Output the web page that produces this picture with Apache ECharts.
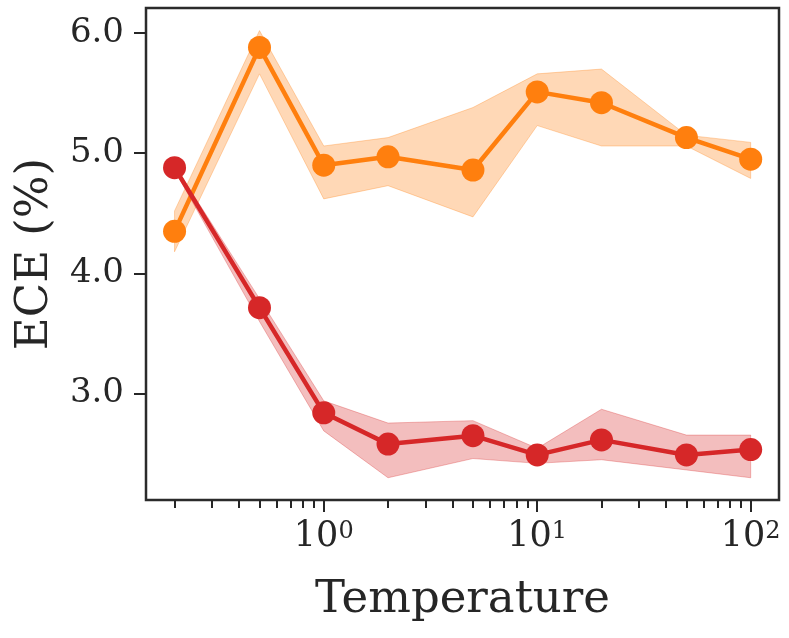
<!DOCTYPE html>
<html>
<head>
<meta charset="utf-8">
<script src="https://cdn.jsdelivr.net/npm/echarts@6/dist/echarts.min.js"></script>
<style>
html,body{margin:0;padding:0;background:#fff;}
#chart{width:789px;height:638px;}
</style>
</head>
<body>
<div id="chart"></div>
<script>
// ---- data ----
const temps = [0.2, 0.5, 1, 2, 5, 10, 20, 50, 100];
const orangeMean = [4.35, 5.88, 4.90, 4.97, 4.86, 5.51, 5.42, 5.13, 4.95];
const orangeLow  = [4.18, 5.66, 4.62, 4.73, 4.47, 5.23, 5.06, 5.06, 4.79];
const orangeHigh = [4.52, 6.02, 5.06, 5.13, 5.38, 5.66, 5.70, 5.15, 5.09];
const redMean = [4.88, 3.715, 2.84, 2.58, 2.65, 2.49, 2.615, 2.49, 2.535];
const redLow  = [4.86, 3.60, 2.69, 2.30, 2.46, 2.42, 2.45, 2.365, 2.30];
const redHigh = [4.90, 3.79, 2.94, 2.755, 2.775, 2.545, 2.87, 2.655, 2.655];
const xMajorTicks = [1, 10, 100];
const xMinorTicks = [0.2, 0.3, 0.4, 0.5, 0.6, 0.7, 0.8, 0.9, 2, 3, 4, 5, 6, 7, 8, 9, 20, 30, 40, 50, 60, 70, 80, 90];
const yTicks = [3, 4, 5, 6];
const xRange = [0.147, 135.7];
const yRange = [2.115, 6.208];

// ---- styles ----
const ORANGE = '#ff7f0e';
const RED = '#d62728';
const ORANGE_A = 'rgba(255,127,14,0.3)';
const RED_A = 'rgba(214,39,40,0.3)';
const TEXT = '#262626';
const FONT = 'DejaVu Serif';

const lx = v => Math.log10(v);
const pts = (ys) => temps.map((t, i) => [lx(t), ys[i]]);

function band(fill, lo, hi, z) {
  const rows = temps.map((t, i) => [lx(t), lo[i], hi[i]]);
  return {
    type: 'custom', z: z, silent: true, clip: true,
    data: rows,
    encode: { x: 0, y: [1, 2] },
    renderItem: function (params, api) {
      if (params.dataIndex !== 0) return null;
      const upper = rows.map(r => api.coord([r[0], r[2]]));
      const lower = rows.map(r => api.coord([r[0], r[1]])).reverse();
      return {
        type: 'polygon',
        shape: { points: upper.concat(lower) },
        style: { fill: fill, stroke: fill, lineWidth: 1 }
      };
    }
  };
}
function meanLine(color, ys, z) {
  return {
    type: 'line', data: pts(ys), symbol: 'circle', symbolSize: 23, z: z,
    lineStyle: { color: color, width: 4.5 }, itemStyle: { color: color }
  };
}

const chart = echarts.init(document.getElementById('chart'), null, { renderer: 'canvas' });
chart.setOption({
  animation: false,
  backgroundColor: '#fff',
  grid: {
    left: 146, right: 10, top: 8, bottom: 138,
    show: true, borderColor: '#2b2b2b', borderWidth: 2.5, backgroundColor: 'transparent'
  },
  xAxis: [
    {
      type: 'value', min: lx(xRange[0]), max: lx(xRange[1]), position: 'bottom',
      name: 'Temperature', nameLocation: 'middle', nameGap: 78,
      nameTextStyle: { fontFamily: FONT, fontSize: 45, color: TEXT },
      axisLine: { show: false, onZero: false },
      splitLine: { show: false },
      axisTick: { show: true, customValues: xMajorTicks.map(lx), length: 12, lineStyle: { color: TEXT, width: 2 } },
      axisLabel: {
        customValues: xMajorTicks.map(lx), margin: 20,
        formatter: v => '{b|10}{s|' + Math.round(v) + '}',
        rich: {
          b: { fontFamily: FONT, fontSize: 35, color: TEXT, lineHeight: 34, verticalAlign: 'bottom' },
          s: { fontFamily: FONT, fontSize: 24, color: TEXT, lineHeight: 16, verticalAlign: 'top' }
        }
      }
    },
    {
      type: 'value', min: lx(xRange[0]), max: lx(xRange[1]), position: 'bottom',
      axisLine: { show: false, onZero: false },
      splitLine: { show: false },
      axisTick: { show: true, customValues: xMinorTicks.map(lx), length: 8, lineStyle: { color: TEXT, width: 2 } },
      axisLabel: { show: false }
    }
  ],
  yAxis: {
    type: 'value', min: yRange[0], max: yRange[1],
    name: 'ECE (%)', nameLocation: 'middle', nameGap: 88,
    nameTextStyle: { fontFamily: FONT, fontSize: 45, color: TEXT },
    axisLine: { show: false, onZero: false },
    splitLine: { show: false },
    axisTick: { show: true, customValues: yTicks, length: 12, lineStyle: { color: TEXT, width: 2 } },
    axisLabel: {
      customValues: yTicks, margin: 22,
      formatter: v => v.toFixed(1),
      fontFamily: FONT, fontSize: 34, color: TEXT
    }
  },
  series: [
    band(ORANGE_A, orangeLow, orangeHigh, 1),
    meanLine(ORANGE, orangeMean, 2),
    band(RED_A, redLow, redHigh, 3),
    meanLine(RED, redMean, 4)
  ]
});
</script>
</body>
</html>
